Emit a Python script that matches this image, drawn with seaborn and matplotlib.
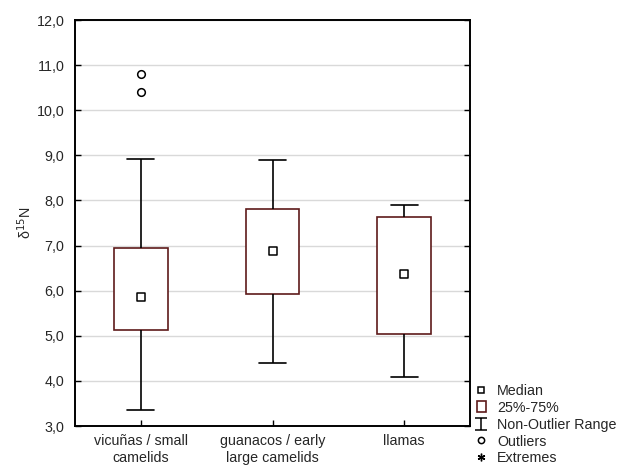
import matplotlib
matplotlib.use("Agg")
import matplotlib.pyplot as plt
from matplotlib.lines import Line2D
from matplotlib.patches import Patch
from matplotlib.path import Path
from matplotlib.ticker import FuncFormatter
import seaborn as sns
import pandas as pd

# ---- data (five-number summaries) ----
categories = ["vicuñas / small\ncamelids", "guanacos / early\nlarge camelids", "llamas"]
vicunas = [3.35, 5.13, 5.87, 6.95, 8.92]
guanacos = [4.40, 5.93, 6.88, 7.80, 8.90]
llamas = [4.08, 5.05, 6.38, 7.63, 7.90]
medians = [5.87, 6.88, 6.38]
outlier_groups = [categories[0], categories[0]]
outlier_values = [10.40, 10.80]
y_ticks = [3, 4, 5, 6, 7, 8, 9, 10, 11, 12]

sns.set_theme(style="white")
plt.rcParams["font.family"] = ["Liberation Sans", "DejaVu Sans"]

rows = []
for cat, vals in zip(categories, [vicunas, guanacos, llamas]):
    for v in vals:
        rows.append({"group": cat, "value": v})
df = pd.DataFrame(rows)

fig = plt.figure(figsize=(6.32, 4.70), dpi=100)
ax = fig.add_axes([75/632, 1-426/470, (470-75)/632, (426-20)/470])

box_edge = "#5e1a1a"
sns.boxplot(data=df, x="group", y="value", order=categories, width=0.41,
            whis=1.5, showfliers=False, color="white", linecolor=box_edge,
            linewidth=1.2,
            boxprops=dict(facecolor="white", edgecolor=box_edge, linewidth=1.2, zorder=3),
            whiskerprops=dict(color="black", linewidth=1.2, zorder=3),
            capprops=dict(color="black", linewidth=1.2, zorder=3),
            medianprops=dict(linewidth=0, alpha=0),
            ax=ax)

sns.stripplot(x=categories, y=medians, order=categories, jitter=False, marker="s",
              size=5.5, color="white", edgecolor="black", linewidth=1.1, zorder=5, ax=ax)
sns.stripplot(x=outlier_groups, y=outlier_values, order=categories, jitter=False, marker="o",
              size=5.5, color="white", edgecolor="black", linewidth=1.1, zorder=5, ax=ax)

ax.set_xlim(-0.5, 2.5)
ax.set_ylim(3, 12)
ax.set_yticks(y_ticks)
ax.yaxis.set_major_formatter(FuncFormatter(lambda v, p: f"{v:.1f}".replace(".", ",")))
ax.grid(axis="y", color="#d9d9d9", linewidth=1, zorder=0)
ax.set_axisbelow(True)
ax.set_xlabel("")
ax.set_ylabel(r"δ$^{15}$N", fontsize=10.3, labelpad=2)

for s in ax.spines.values():
    s.set_visible(True)
    s.set_color("black")
    s.set_linewidth(1.4)

ax.tick_params(axis="y", which="both", left=True, right=True, direction="in",
               length=4, width=1, color="black", labelsize=10.3, pad=7.5)
ax.tick_params(axis="x", bottom=True, direction="in", length=4, width=1,
               color="black", labelsize=10.3, pad=6)
for lab in ax.get_xticklabels():
    lab.set_verticalalignment("top")
    lab.set_linespacing(1.2)

# legend
ibeam = Path([(-1, 1), (1, 1), (0, 1), (0, -1), (-1, -1), (1, -1)],
             [Path.MOVETO, Path.LINETO, Path.MOVETO, Path.LINETO, Path.MOVETO, Path.LINETO])
handles = [
    Line2D([], [], linestyle="none", marker="s", markersize=4.5, markerfacecolor="white",
           markeredgecolor="black", markeredgewidth=1.1),
    Patch(facecolor="white", edgecolor=box_edge, linewidth=1.2),
    Line2D([], [], linestyle="none", marker=ibeam, markersize=9, markerfacecolor="none",
           markeredgecolor="black", markeredgewidth=1.1),
    Line2D([], [], linestyle="none", marker="o", markersize=4.5, markerfacecolor="white",
           markeredgecolor="black", markeredgewidth=1.1),
    Line2D([], [], linestyle="none", marker=(6, 2, 0), markersize=5.5,
           markeredgecolor="black", markeredgewidth=1.0),
]
labels = ["Median", "25%-75%", "Non-Outlier Range", "Outliers", "Extremes"]
fig.legend(handles, labels, loc="upper left", bbox_to_anchor=(477/632, 1-384/470),
           frameon=False, fontsize=10.3, handlelength=0.6, handleheight=0.8,
           handletextpad=0.8, labelspacing=0.2, borderpad=0, borderaxespad=0)

fig.savefig("out.png", dpi=100)
